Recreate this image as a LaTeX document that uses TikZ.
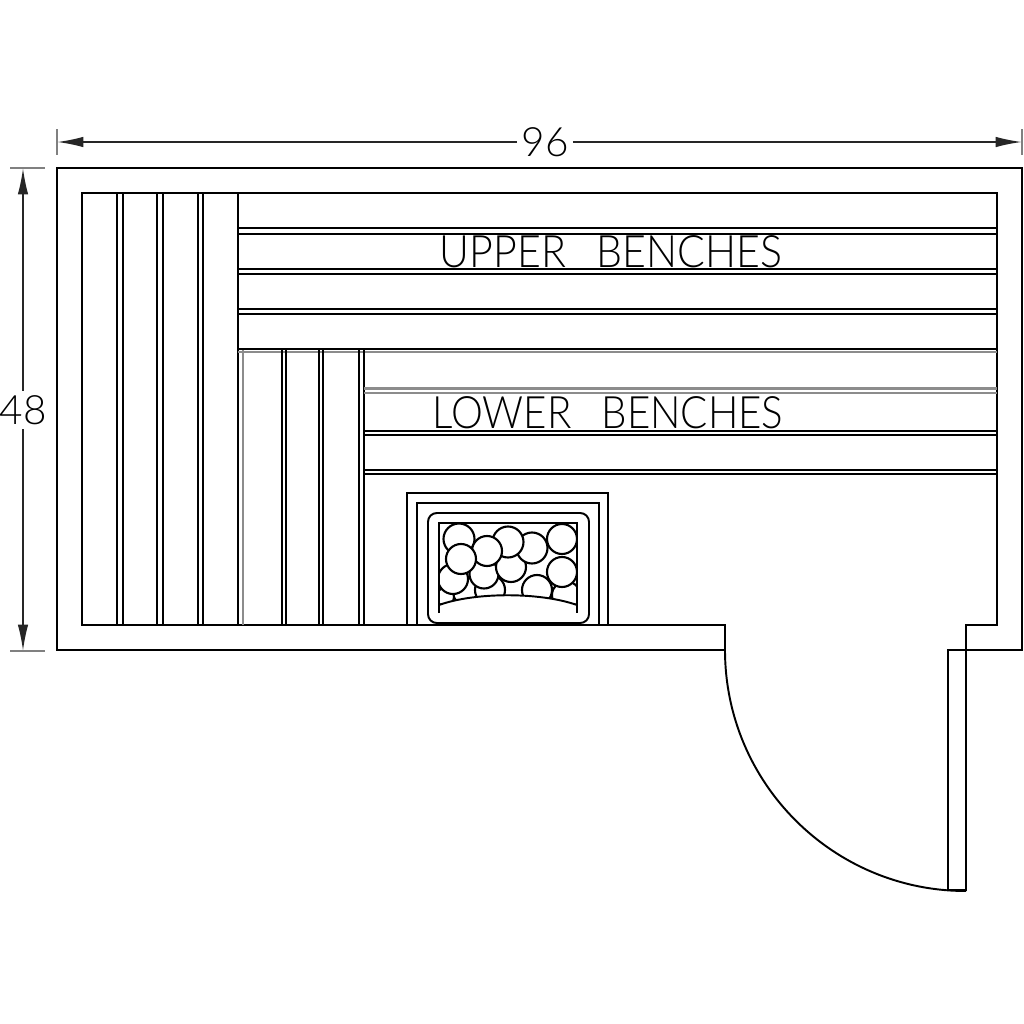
\documentclass[tikz,border=0pt]{standalone}
\usepackage{fontspec}
\newfontfamily\cadfont{Lato Light}
\usetikzlibrary{arrows.meta}
\tikzset{
    wall/.style={line width=.55pt},
    stone/.style={line width=.6pt, fill=white},
    fadedline/.style={line width=.7pt, black!45},
    dimline/.style={line width=.5pt, black!85, -{Latex[length=7.5pt,width=3pt]}},
    dimtick/.style={line width=.6pt, black!50},
    bench/.style={inner sep=0pt, font=\cadfont\fontsize{12.7}{13}\selectfont, xscale=.92, transform shape},
    dimlabel/.style={inner sep=1pt, font=\cadfont\fontsize{11.5}{12}\selectfont}
}
\begin{document}
\begin{tikzpicture}[x=.01cm, y=-.01cm, wall]
    \useasboundingbox (0,0) rectangle (1024,1024);
    % walls and door
    \draw (725,650)--(57,650)--(57,168)--(1022,168)--(1022,650)--(948,650)--(948,890)--(966,890)--(966,625)--(997,625)--(997,193)--(82,193)--(82,625)--(725,625)--cycle;
    \draw (725,650) arc[start angle=180, end angle=90, radius=241];
    % upper benches
    \draw (117,193)--(117,625);
    \draw (123,193)--(123,625);
    \draw (157,193)--(157,625);
    \draw (163,193)--(163,625);
    \draw (198,193)--(198,625);
    \draw (203,193)--(203,625);
    \draw (238,193)--(238,625);
    \draw (238,228)--(997,228);
    \draw (238,234)--(997,234);
    \draw (238,269)--(997,269);
    \draw (238,274)--(997,274);
    \draw (238,309)--(997,309);
    \draw (238,314)--(997,314);
    \draw (238,349)--(997,349);
    \draw [fadedline](238,352)--(997,352);
    % lower benches
    \draw [fadedline](243,350)--(243,625);
    \draw (282,350)--(282,625);
    \draw (286,350)--(286,625);
    \draw (319,350)--(319,625);
    \draw (323,350)--(323,625);
    \draw (359,350)--(359,625);
    \draw (364,350)--(364,625);
    \draw [fadedline](364,388.5)--(997,388.5);
    \draw [fadedline](364,393)--(997,393);
    \draw (364,431)--(997,431);
    \draw (364,435)--(997,435);
    \draw (364,470)--(997,470);
    \draw (364,474)--(997,474);
    \node [bench] (upperlabel) at (611,252) {UPPER\ \ \hspace{2.6pt}BENCHES};
    \node [bench, xscale=.98] (lowerlabel) at (608,413) {LOWER\ \ \hspace{2.6pt}BENCHES};
    % heater
    \draw (407,625)--(407,493)--(608,493)--(608,625);
    \draw (417,625)--(417,503)--(599,503)--(599,625);
    \draw [rounded corners=2.5pt] (428,513) rectangle (589,623);
    \begin{scope}
        \clip (439,523) rectangle (577,613);
        \draw [stone](467,592) circle[radius=14];
        \draw [stone](445,597) circle[radius=9];
        \draw [stone](490,590) circle[radius=15];
        \draw [stone](537,590) circle[radius=15];
        \draw [stone](566,595) circle[radius=14];
        \draw [stone](453,579) circle[radius=15];
        \draw [stone](484,574) circle[radius=14.5];
        \draw [stone](511,567) circle[radius=15];
        \draw [stone](562,572) circle[radius=15];
        \draw [stone](532,548) circle[radius=15.5];
        \draw [stone](508,542) circle[radius=15.5];
        \draw [stone](459,539) circle[radius=15.5];
        \draw [stone](487,551) circle[radius=15];
        \draw [stone](461,559) circle[radius=15];
        \draw [stone](562,539) circle[radius=15];
    \end{scope}
    \fill [white](439,605) .. controls (475,592) and (540,592) .. (577,605)--(577,620)--(439,620)--cycle;
    \draw (439,613)--(439,523)--(577,523)--(577,613);
    \draw (439,605) .. controls (475,592) and (540,592) .. (577,605);
    % dimensions
    \node [dimlabel] (widthlabel) at (545,142) {96};
    \coordinate (widthleft) at (57,142);
    \coordinate (widthright) at (1022,142);
    \draw [dimline](widthlabel)--(widthleft);
    \draw [dimline](widthlabel)--(widthright);
    \draw [dimtick](57,129)--(57,155);
    \draw [dimtick](1022,129)--(1022,155);
    \node [dimlabel] (heightlabel) at (23,410) {48};
    \coordinate (heighttop) at (23,168);
    \coordinate (heightbottom) at (23,651);
    \draw [dimline](heightlabel)--(heighttop);
    \draw [dimline](heightlabel)--(heightbottom);
    \draw [dimtick](10,168)--(45,168);
    \draw [dimtick](10,651)--(45,651);
\end{tikzpicture}
\end{document}
